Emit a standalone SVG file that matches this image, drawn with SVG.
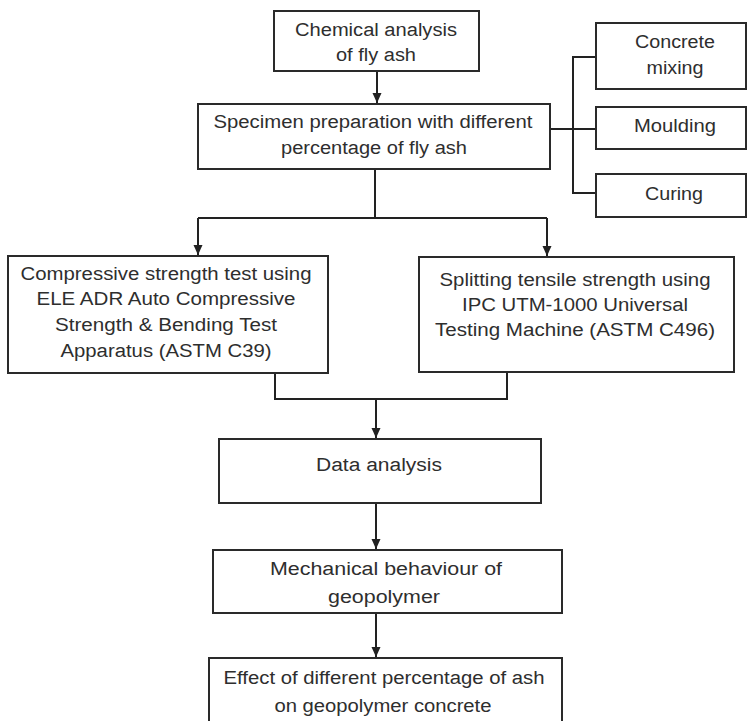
<svg xmlns="http://www.w3.org/2000/svg" width="748" height="721" viewBox="0 0 748 721">
  <style>
    .box { fill: #ffffff; stroke: #2a2a2a; stroke-width: 2; }
    .lbl { font-family: "Liberation Sans", Arial, sans-serif; font-size: 18px; fill: #2e2e2e; text-anchor: middle; }
    .con { fill: none; stroke: #222222; stroke-width: 2; }
  </style>
  <defs>
    <marker id="arr" markerUnits="userSpaceOnUse" markerWidth="10" markerHeight="10" viewBox="0 0 10 10" refX="10" refY="5" orient="auto">
      <path d="M0,0.5 L10,5 L0,9.5 Z" fill="#222222"/>
    </marker>
  </defs>
  <rect width="748" height="721" fill="#ffffff"/>

  <g id="connectors">
    <path class="con" d="M377,71 V103" marker-end="url(#arr)"/>
    <path class="con" d="M550,129 H596"/>
    <path class="con" d="M596,57 H573 V193 H596"/>
    <path class="con" d="M375,169 V218"/>
    <path class="con" d="M198,218 H547"/>
    <path class="con" d="M198,218 V255" marker-end="url(#arr)"/>
    <path class="con" d="M547,218 V256" marker-end="url(#arr)"/>
    <path class="con" d="M275,373 V399 H507 V372"/>
    <path class="con" d="M376,399 V438" marker-end="url(#arr)"/>
    <path class="con" d="M376,503 V549" marker-end="url(#arr)"/>
    <path class="con" d="M376,613 V657" marker-end="url(#arr)"/>
  </g>

  <g id="chemical">
    <rect class="box" x="274" y="11" width="205" height="60"/>
    <text class="lbl" x="376" y="36" textLength="162" lengthAdjust="spacingAndGlyphs">Chemical analysis</text>
    <text class="lbl" x="376" y="61" textLength="80" lengthAdjust="spacingAndGlyphs">of fly ash</text>
  </g>

  <g id="specimen">
    <rect class="box" x="198" y="104" width="352" height="65"/>
    <text class="lbl" x="373" y="128" textLength="319" lengthAdjust="spacingAndGlyphs">Specimen preparation with different</text>
    <text class="lbl" x="374" y="154" textLength="186" lengthAdjust="spacingAndGlyphs">percentage of fly ash</text>
  </g>

  <g id="concrete-mixing">
    <rect class="box" x="596" y="23" width="150" height="66"/>
    <text class="lbl" x="675" y="48" textLength="80" lengthAdjust="spacingAndGlyphs">Concrete</text>
    <text class="lbl" x="675" y="74" textLength="57" lengthAdjust="spacingAndGlyphs">mixing</text>
  </g>

  <g id="moulding">
    <rect class="box" x="596" y="107" width="150" height="42"/>
    <text class="lbl" x="675" y="132" textLength="82" lengthAdjust="spacingAndGlyphs">Moulding</text>
  </g>

  <g id="curing">
    <rect class="box" x="596" y="174" width="150" height="43"/>
    <text class="lbl" x="674" y="200" textLength="58" lengthAdjust="spacingAndGlyphs">Curing</text>
  </g>

  <g id="compressive">
    <rect class="box" x="8" y="256" width="320" height="117"/>
    <text class="lbl" x="166" y="280" textLength="291" lengthAdjust="spacingAndGlyphs">Compressive strength test using</text>
    <text class="lbl" x="166" y="305" textLength="259" lengthAdjust="spacingAndGlyphs">ELE ADR Auto Compressive</text>
    <text class="lbl" x="166" y="331" textLength="222" lengthAdjust="spacingAndGlyphs">Strength &amp; Bending Test</text>
    <text class="lbl" x="166" y="357" textLength="211" lengthAdjust="spacingAndGlyphs">Apparatus (ASTM C39)</text>
  </g>

  <g id="splitting">
    <rect class="box" x="419" y="257" width="315" height="115"/>
    <text class="lbl" x="575" y="286" textLength="271" lengthAdjust="spacingAndGlyphs">Splitting tensile strength using</text>
    <text class="lbl" x="575" y="311" textLength="226" lengthAdjust="spacingAndGlyphs">IPC UTM-1000 Universal</text>
    <text class="lbl" x="575" y="336" textLength="280" lengthAdjust="spacingAndGlyphs">Testing Machine (ASTM C496)</text>
  </g>

  <g id="data-analysis">
    <rect class="box" x="219" y="439" width="322" height="64"/>
    <text class="lbl" x="379" y="471" textLength="126" lengthAdjust="spacingAndGlyphs">Data analysis</text>
  </g>

  <g id="mechanical">
    <rect class="box" x="213" y="550" width="349" height="63"/>
    <text class="lbl" x="386" y="575" textLength="232" lengthAdjust="spacingAndGlyphs">Mechanical behaviour of</text>
    <text class="lbl" x="384" y="603" textLength="112" lengthAdjust="spacingAndGlyphs">geopolymer</text>
  </g>

  <g id="effect">
    <rect class="box" x="209" y="658" width="353" height="80"/>
    <text class="lbl" x="384" y="684" textLength="321" lengthAdjust="spacingAndGlyphs">Effect of different percentage of ash</text>
    <text class="lbl" x="383" y="712" textLength="217" lengthAdjust="spacingAndGlyphs">on geopolymer concrete</text>
  </g>
</svg>
